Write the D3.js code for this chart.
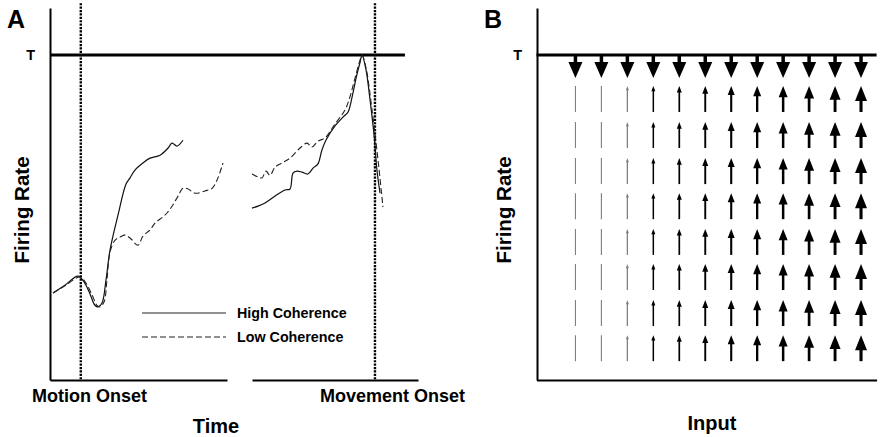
<!DOCTYPE html>
<html>
<head>
<meta charset="utf-8">
<script src="https://cdn.jsdelivr.net/npm/d3@7"></script>
<style>
    body { margin: 0; background: #fff; }
    text { font-family: "Liberation Sans", Arial, sans-serif; font-weight: bold; fill: #000; }
</style>
</head>
<body>
<div id="graph"></div>
<script>
"use strict";
// [time (ms), firing rate]
const highEarly = [[-180, 26.8], [-103, 29.2], [-18, 32], [21, 30.2], [60, 26.5], [92, 23], [112, 22.5],
    [138, 23.7], [164, 30.8], [190, 40], [242, 50.8], [294, 60.3], [320, 62.2], [352, 64.6], [404, 66.8],
    [450, 68.3], [515, 69.2], [567, 71.4], [593, 72.9], [625, 72], [664, 73.8]];
const lowEarly = [[-180, 26.8], [-103, 29], [-5, 31.7], [34, 29.8], [73, 26.2], [105, 23], [125, 22.5],
    [151, 24], [170, 30.8], [190, 39.4], [222, 43], [255, 44], [287, 44.6], [320, 43.7], [372, 41.5],
    [404, 44.3], [450, 46.2], [482, 48.3], [534, 50.2], [560, 51.4], [593, 53.5], [632, 56.6], [664, 59],
    [697, 58.8], [742, 57.5], [807, 58.2], [853, 59], [885, 61.5], [924, 66.8]];
const highLate = [[-800, 52.9], [-761, 53.5], [-715, 54.5], [-650, 56.6], [-585, 58.5], [-553, 58.8],
    [-533, 63.7], [-507, 64.3], [-475, 64], [-436, 63.4], [-403, 65.2], [-371, 66.5], [-345, 70.8],
    [-319, 73.8], [-260, 78.2], [-208, 80.9], [-175, 82.5], [-149, 87.1], [-123, 92.9], [-97, 97.8],
    [-84, 100], [-58, 95.4], [-32, 86.2], [-6, 75.4], [13, 64.6], [33, 57.5]];
const lowLate = [[-800, 63.4], [-761, 62.5], [-735, 62.2], [-709, 64.3], [-683, 63], [-650, 65.5],
    [-605, 66.8], [-553, 68.3], [-488, 71.4], [-442, 72.9], [-410, 71.7], [-371, 73.5], [-325, 74.5],
    [-260, 78.8], [-195, 83.1], [-163, 87.1], [-130, 92.9], [-97, 98.5], [-84, 100], [-58, 96],
    [-19, 83.1], [20, 67.7], [52, 53.2]];

// panel B: input levels, relative input drive per column, firing-rate rows (arrow bases)
const inputLevels = [0, 1, 2, 3, 4, 5, 6, 7, 8, 9, 10, 11];
const inputDrive = [0, 0.02, 0.1, 0.2, 0.3, 0.4, 0.5, 0.6, 0.7, 0.8, 0.9, 1];
const rateRows = [5.8, 16.6, 27.7, 38.5, 49.5, 60.3, 71.4, 82.5];
const arrowLen = 8;
const threshold = 100;
const legendLabels = ["High Coherence", "Low Coherence"];

(function() {
    const svgSize = { width: 887, height: 437 };
    let svg;

    window.addEventListener("load", init);

    function init() {
        svg = d3.select("#graph").append("svg")
            .attr("width", svgSize.width)
            .attr("height", svgSize.height);
        svg.append("rect").attr("width", svgSize.width).attr("height", svgSize.height).attr("fill", "#fff");

        let yScale = d3.scaleLinear().domain([0, 114.5]).range([380, 8]);
        drawPanelA(yScale);
        drawPanelB(yScale);
    }

    function yAxis(x, yScale) {
        let g = svg.append("g")
            .attr("transform", "translate(" + x + ",0)")
            .call(d3.axisLeft(yScale).tickValues([]).tickSizeOuter(0));
        g.select(".domain").attr("stroke", "#000").attr("stroke-width", 2);
        // threshold tick label
        label("T", x - 15, yScale(threshold) + 5, 14.5, "end");
    }

    function xAxis(scale, y) {
        let g = svg.append("g")
            .attr("transform", "translate(0," + y + ")")
            .call(d3.axisBottom(scale).tickValues([]).tickSizeOuter(0));
        g.select(".domain").attr("stroke", "#000").attr("stroke-width", 2);
    }

    function label(txt, x, y, size, anchor, rotate) {
        let t = svg.append("text")
            .attr("text-anchor", anchor || "start")
            .style("font-size", size + "px")
            .text(txt);
        if (rotate) {
            t.attr("transform", "translate(" + x + "," + y + ") rotate(-90)");
        } else {
            t.attr("x", x).attr("y", y);
        }
    }

    function drawPanelA(yScale) {
        let xLeft = d3.scaleLinear().domain([-200, 950]).range([50, 227]);
        let xRight = d3.scaleLinear().domain([-800, 280]).range([252, 418]);

        // threshold
        svg.append("line")
            .attr("x1", xLeft(-200)).attr("x2", xRight(195))
            .attr("y1", yScale(threshold)).attr("y2", yScale(threshold))
            .attr("stroke", "#000").attr("stroke-width", 3);

        // onset markers
        [xLeft(0), xRight(0)].forEach((x) => {
            svg.append("line")
                .attr("x1", x).attr("x2", x)
                .attr("y1", yScale(116)).attr("y2", yScale(0))
                .attr("stroke", "#000").attr("stroke-width", 2.4)
                .attr("stroke-dasharray", "2.2,1.2");
        });

        xAxis(xLeft, 380);
        xAxis(xRight, 380);
        yAxis(50, yScale);

        let lineL = d3.line().x((d) => xLeft(d[0])).y((d) => yScale(d[1])).curve(d3.curveCatmullRom);
        let lineR = d3.line().x((d) => xRight(d[0])).y((d) => yScale(d[1])).curve(d3.curveCatmullRom);

        svg.append("path").attr("d", lineL(highEarly))
            .attr("fill", "none").attr("stroke", "#111").attr("stroke-width", 1.2);
        svg.append("path").attr("d", lineL(lowEarly))
            .attr("fill", "none").attr("stroke", "#222").attr("stroke-width", 1.1)
            .attr("stroke-dasharray", "6,3");
        svg.append("path").attr("d", lineR(highLate))
            .attr("fill", "none").attr("stroke", "#111").attr("stroke-width", 1.2);
        svg.append("path").attr("d", lineR(lowLate))
            .attr("fill", "none").attr("stroke", "#222").attr("stroke-width", 1.1)
            .attr("stroke-dasharray", "6,3");

        // legend
        legendLabels.forEach((name, i) => {
            let y = 313 + i * 24;
            svg.append("line")
                .attr("x1", 142).attr("x2", 226).attr("y1", y).attr("y2", y)
                .attr("stroke", "#222").attr("stroke-width", 1.2)
                .attr("stroke-dasharray", i ? "6,3" : null);
            label(name, 237, y + 5, 14.3);
        });

        label("A", 7, 28, 25);
        label("Firing Rate", 29, 210, 20.5, "middle", true);
        label("Motion Onset", 32, 402, 18);
        label("Movement Onset", 320, 402, 18);
        label("Time", 216, 433, 20, "middle");
    }

    function drawPanelB(yScale) {
        let xScale = d3.scaleLinear().domain([-1.5, 11.6]).range([536.5, 876.6]);

        xAxis(xScale, 380);
        yAxis(537, yScale);

        svg.append("line")
            .attr("x1", xScale(-1.5)).attr("x2", xScale(11.6))
            .attr("y1", yScale(threshold)).attr("y2", yScale(threshold))
            .attr("stroke", "#000").attr("stroke-width", 3);

        let ty = yScale(threshold);
        // downward arrows at threshold
        inputLevels.forEach((lvl) => {
            let x = xScale(lvl);
            svg.append("line")
                .attr("x1", x).attr("x2", x).attr("y1", ty).attr("y2", ty + 12)
                .attr("stroke", "#000").attr("stroke-width", 3.5);
            svg.append("path")
                .attr("d", "M" + (x - 7) + "," + (ty + 7) + "L" + (x + 7) + "," + (ty + 7) +
                    "L" + x + "," + (ty + 23) + "Z")
                .attr("fill", "#000");
        });

        // upward drift arrows
        inputLevels.forEach((lvl, i) => {
            let s = inputDrive[i];
            let x = xScale(lvl);
            let color = s < 0.15 ? "#808080" : "#000";
            let sw = 1.1 + 2 * s;
            let headW = 2 + 10 * s;
            let headL = 3 + 12 * s;
            rateRows.forEach((r) => {
                let yb = yScale(r);
                let yt = yScale(r + arrowLen);
                let hasHead = s >= 0.05;
                svg.append("line")
                    .attr("x1", x).attr("x2", x)
                    .attr("y1", yb).attr("y2", hasHead ? yt + headL * 0.6 : yt)
                    .attr("stroke", color).attr("stroke-width", sw);
                if (hasHead) {
                    svg.append("path")
                        .attr("d", "M" + x + "," + yt + "L" + (x + headW / 2) + "," + (yt + headL) +
                            "L" + (x - headW / 2) + "," + (yt + headL) + "Z")
                        .attr("fill", color);
                }
            });
        });

        label("B", 484, 28, 25);
        label("Firing Rate", 511, 210, 20.5, "middle", true);
        label("Input", 712, 430, 20, "middle");
    }
})();
</script>
</body>
</html>
